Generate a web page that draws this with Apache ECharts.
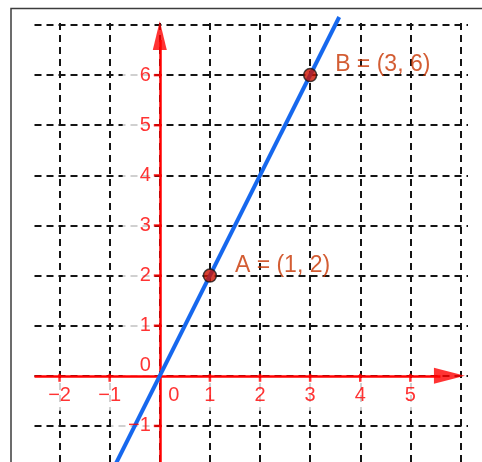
<!DOCTYPE html>
<html>
<head>
<meta charset="utf-8">
<script src="https://cdn.jsdelivr.net/npm/echarts@6/dist/echarts.min.js"></script>
<style>html,body{margin:0;padding:0;background:#fff}#c{width:482px;height:462px}</style>
</head>
<body>
<div id="c"></div>
<script>
// ---- data ----
const viewX = [-2.5, 6.15];
const viewY = [-1.72, 7.1];
const gridXs = [-2, -1, 0, 1, 2, 3, 4, 5, 6];
const gridYs = [-1, 0, 1, 2, 3, 4, 5, 6, 7];
const xTickVals = [-2, -1, 1, 2, 3, 4, 5];
const xTickLabels = ['−2', '−1', '1', '2', '3', '4', '5'];
const yTickVals = [-1, 1, 2, 3, 4, 5, 6];
const yTickLabels = ['−1', '1', '2', '3', '4', '5', '6'];
const originLabel = '0';
const lineX = [-0.92, 3.58];
const lineY = [-1.84, 7.16];
const pointNames = ['A', 'B'];
const pointX = [1, 3];
const pointY = [2, 6];
const axisEnd = [5.6, 6.7];      // where the red axis lines meet their arrowheads
const arrowPos = [5.78, 6.79];   // arrowhead centres (x on x-axis, y on y-axis)

// ---- chart ----
const FONT = '"Liberation Sans", Arial, sans-serif';
const RED = '#ff0000';
const TICK_FONT = 20;
const chart = echarts.init(document.getElementById('c'), null, {renderer: 'canvas'});

const gridLineData = [];
gridXs.forEach(x => gridLineData.push({coords: [[x, viewY[0]], [x, viewY[1]]]}));
gridYs.forEach(y => gridLineData.push({coords: [[viewX[0], y], [viewX[1], y]]}));

const xLabelData = xTickVals.map((v, i) => ({value: [v, 0], name: xTickLabels[i]}));
xLabelData.push({value: [0, 0], name: originLabel, label: {offset: [14, 20]}});
const yLabelData = yTickVals.map((v, i) => ({value: [0, v], name: yTickLabels[i]}));
yLabelData.push({value: [0, 0], name: originLabel, label: {offset: [-9, -10]}});

function xLabelSeries(bg) {
  return {
    type: 'scatter', silent: true, z: bg ? 2 : 6, symbolSize: 1,
    itemStyle: {color: 'rgba(0,0,0,0)'},
    data: xLabelData,
    label: {
      show: true, formatter: '{b}', position: 'inside', offset: [0, 20],
      align: 'center', verticalAlign: 'middle',
      fontSize: TICK_FONT, fontFamily: FONT,
      color: bg ? 'rgba(0,0,0,0)' : RED,
      backgroundColor: bg ? '#fff' : 'transparent',
      padding: bg ? [5, 5] : 0
    }
  };
}
function yLabelSeries(bg) {
  return {
    type: 'scatter', silent: true, z: bg ? 2 : 6, symbolSize: 1,
    itemStyle: {color: 'rgba(0,0,0,0)'},
    data: yLabelData,
    label: {
      show: true, formatter: '{b}', position: 'inside', offset: [-9, 0],
      align: 'right', verticalAlign: 'middle',
      fontSize: TICK_FONT, fontFamily: FONT,
      color: bg ? 'rgba(0,0,0,0)' : RED,
      backgroundColor: bg ? '#fff' : 'transparent',
      padding: bg ? [3, 1, 3, 16] : 0
    }
  };
}

const option = {
  animation: false,
  backgroundColor: '#fff',
  grid: {left: 34.5, right: 14, top: 20, bottom: 0},
  xAxis: {type: 'value', min: viewX[0], max: viewX[1], show: false},
  yAxis: {type: 'value', min: viewY[0], max: viewY[1], show: false},
  graphic: [{
    type: 'polyline', silent: true,
    shape: {points: [[11, 462], [11, 8.5], [482, 8.5]]},
    style: {stroke: '#3c3c3c', lineWidth: 1.5, fill: null}
  }],
  series: [
    {
      type: 'lines', coordinateSystem: 'cartesian2d', silent: true, z: 1,
      data: gridLineData,
      lineStyle: {color: '#141414', width: 2, type: [7, 5], opacity: 1}
    },
    xLabelSeries(true),
    yLabelSeries(true),
    {
      type: 'lines', coordinateSystem: 'cartesian2d', silent: true, z: 3,
      data: [
        {coords: [[viewX[0], 0], [axisEnd[0], 0]]},
        {coords: [[0, viewY[0]], [0, axisEnd[1]]]}
      ],
      lineStyle: {color: RED, width: 2.5, type: 'solid', opacity: 1}
    },
    {
      type: 'scatter', silent: true, z: 3, symbol: 'rect',
      data: xTickVals.map(v => [v, 0]),
      symbolSize: [2.5, 8], symbolOffset: [0, 2],
      itemStyle: {color: RED}
    },
    {
      type: 'scatter', silent: true, z: 3, symbol: 'rect',
      data: yTickVals.map(v => [0, v]),
      symbolSize: [8, 2.5], symbolOffset: [-2, 0],
      itemStyle: {color: RED}
    },
    {
      type: 'scatter', silent: true, z: 3, symbol: 'triangle',
      data: [
        {value: [arrowPos[0], 0], symbolSize: [16, 31], symbolRotate: -90},
        {value: [0, arrowPos[1]], symbolSize: [14, 29], symbolRotate: 0}
      ],
      itemStyle: {color: RED}
    },
    {
      type: 'line', silent: true, z: 4,
      data: lineX.map((x, i) => [x, lineY[i]]),
      showSymbol: false, symbol: 'none', clip: false,
      lineStyle: {color: '#1668ee', width: 4}
    },
    xLabelSeries(false),
    yLabelSeries(false),
    {
      type: 'scatter', silent: true, z: 7,
      data: pointNames.map((n, i) => ({value: [pointX[i], pointY[i]], name: n})),
      symbol: 'circle', symbolSize: 13,
      itemStyle: {color: '#cc1100', borderColor: '#1a1a1a', borderWidth: 1.5},
      label: {
        show: true, position: 'inside', align: 'left', verticalAlign: 'middle',
        offset: [25, -10],
        formatter: p => p.name + ' = (' + p.value[0] + ', ' + p.value[1] + ')',
        fontSize: 23, fontFamily: FONT, color: '#c83400'
      }
    }
  ]
};
chart.setOption(option);
</script>
</body>
</html>
